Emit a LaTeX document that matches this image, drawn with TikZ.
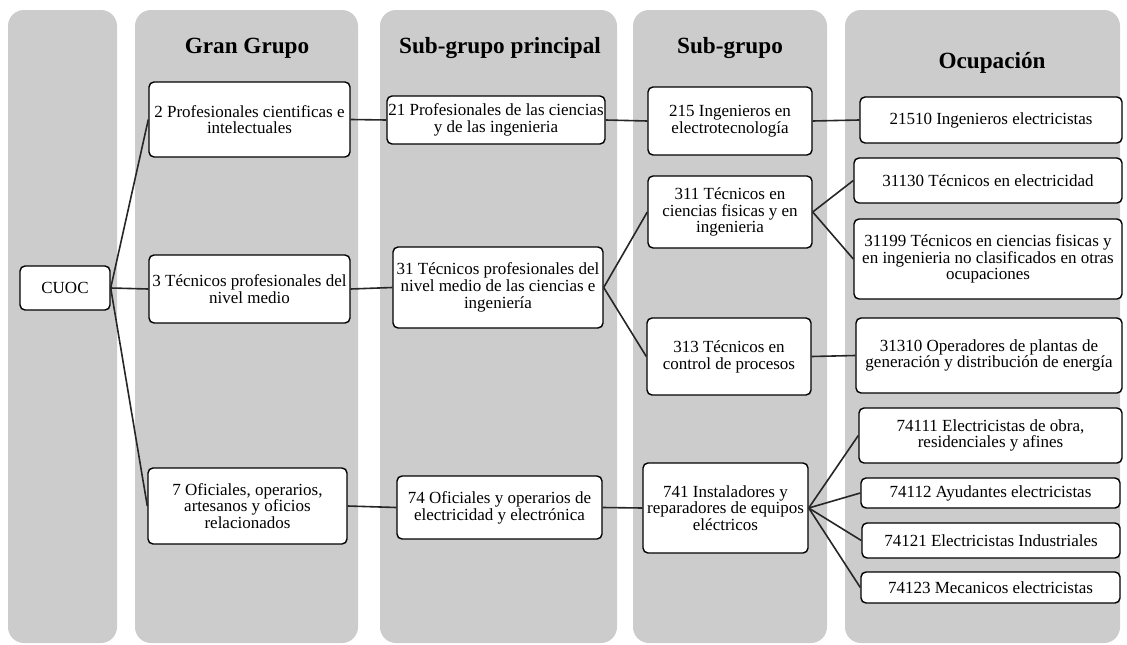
\documentclass[tikz,border=0pt]{standalone}
\usepackage{fontspec}
\setmainfont{Liberation Serif}
\begin{document}
\begin{tikzpicture}[x=1pt,y=-1pt,
  lane/.style={fill=lanegray, draw=none, rounded corners=16pt},
  hdr/.style={font=\fontsize{23.2}{25}\selectfont\bfseries, inner sep=0pt},
  box/.style={draw=black, fill=white, line width=1.4pt, rounded corners=5pt,
    align=center, inner sep=1pt, font=\fontsize{17}{16.8}\selectfont},
  link/.style={line width=1.6pt, draw=black!85}]
\definecolor{lanegray}{HTML}{CCCCCC}
\useasboundingbox (0,0) rectangle (1127,645);
% lanes
\fill[lane] (8,10) rectangle (117,643);
\fill[lane] (135,10) rectangle (358,643);
\fill[lane] (380,10) rectangle (617,643);
\fill[lane] (633,10) rectangle (827,643);
\fill[lane] (845,10) rectangle (1120,643);
% headers
\node[hdr] (h1) at (247,48) {Gran Grupo};
\node[hdr] (h2) at (500,48) {Sub-grupo principal};
\node[hdr] (h3) at (730,48) {Sub-grupo};
\node[hdr] (h4) at (992,63) {Ocupación};
% nodes
\node[box, minimum width=90pt, minimum height=44pt] (cuoc) at (65,288) {CUOC};
\node[box, minimum width=201pt, minimum height=75pt] (gg2) at (249.5,119.5) {2 Profesionales cientificas e\\intelectuales};
\node[box, minimum width=201pt, minimum height=68pt] (gg3) at (249.5,289) {3 Técnicos profesionales del\\nivel medio};
\node[box, minimum width=199pt, minimum height=76pt] (gg7) at (247.5,506) {7 Oficiales, operarios,\\artesanos y oficios\\relacionados};
\node[box, minimum width=218pt, minimum height=48pt] (sp21) at (496,120) {21 Profesionales de las ciencias\\y de las ingenieria};
\node[box, minimum width=210pt, minimum height=81pt] (sp31) at (498,287.5) {31 Técnicos profesionales del\\nivel medio de las ciencias e\\ingeniería};
\node[box, minimum width=205pt, minimum height=63pt] (sp74) at (499.5,507.5) {74 Oficiales y operarios de\\electricidad y electrónica};
\node[box, minimum width=164pt, minimum height=68pt] (sg215) at (730,121) {215 Ingenieros en\\electrotecnología};
\node[box, minimum width=164pt, minimum height=72pt] (sg311) at (730,212) {311 Técnicos en\\ciencias fisicas y en\\ingenieria};
\node[box, minimum width=164pt, minimum height=77pt] (sg313) at (729,356.5) {313 Técnicos en\\control de procesos};
\node[box, minimum width=165pt, minimum height=90pt] (sg741) at (725.5,508) {741 Instaladores y\\reparadores de equipos\\eléctricos};
\node[box, minimum width=262pt, minimum height=46pt] (o21510) at (991,120) {21510 Ingenieros electricistas};
\node[box, minimum width=268pt, minimum height=45pt] (o31130) at (988,180.5) {31130 Técnicos en electricidad};
\node[box, minimum width=268pt, minimum height=80pt] (o31199) at (988,259) {31199 Técnicos en ciencias fisicas y\\en ingenieria no clasificados en otras\\ocupaciones};
\node[box, minimum width=266pt, minimum height=75pt] (o31310) at (989,355.5) {31310 Operadores de plantas de\\generación y distribución de energía};
\node[box, minimum width=263pt, minimum height=55pt] (o74111) at (990.5,435.5) {74111 Electricistas de obra,\\residenciales y afines};
\node[box, minimum width=259pt, minimum height=30pt] (o74112) at (990.5,493) {74112 Ayudantes electricistas};
\node[box, minimum width=258pt, minimum height=35pt] (o74121) at (991,540.5) {74121 Electricistas Industriales};
\node[box, minimum width=259pt, minimum height=31pt] (o74123) at (990.5,587.5) {74123 Mecanicos electricistas};
% connectors
\draw[link] (cuoc.east) -- (gg2.west);
\draw[link] (cuoc.east) -- (gg3.west);
\draw[link] (cuoc.east) -- (gg7.west);
\draw[link] (gg2.east) -- (sp21.west);
\draw[link] (gg3.east) -- (sp31.west);
\draw[link] (gg7.east) -- (sp74.west);
\draw[link] (sp21.east) -- (sg215.west);
\draw[link] (sp31.east) -- (sg311.west);
\draw[link] (sp31.east) -- (sg313.west);
\draw[link] (sp74.east) -- (sg741.west);
\draw[link] (sg215.east) -- (o21510.west);
\draw[link] (sg311.east) -- (o31130.west);
\draw[link] (sg311.east) -- (o31199.west);
\draw[link] (sg313.east) -- (o31310.west);
\draw[link] (sg741.east) -- (o74111.west);
\draw[link] (sg741.east) -- (o74112.west);
\draw[link] (sg741.east) -- (o74121.west);
\draw[link] (sg741.east) -- (o74123.west);
\end{tikzpicture}
\end{document}
